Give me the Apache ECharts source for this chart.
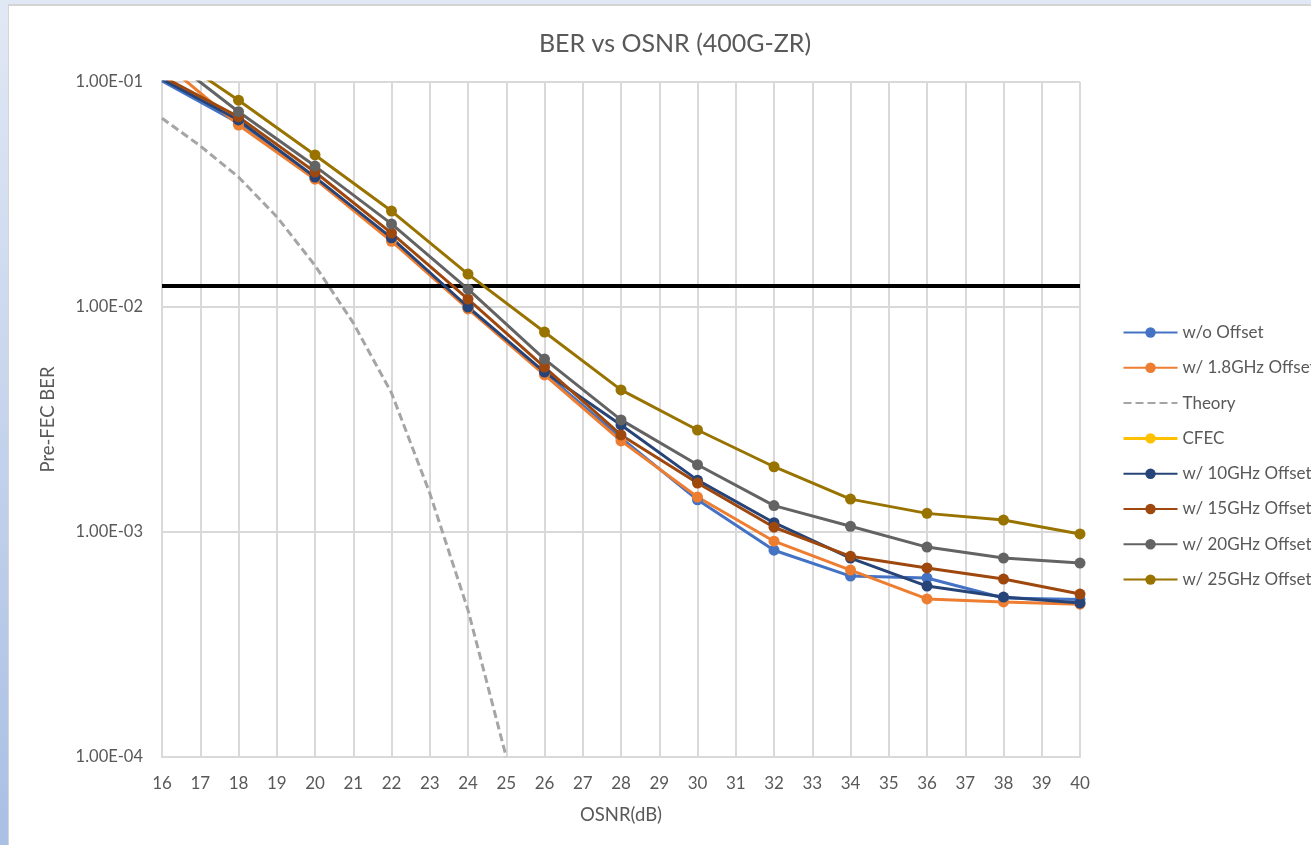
<!DOCTYPE html>
<html>
<head>
<meta charset="utf-8">
<script src="https://cdn.jsdelivr.net/npm/echarts@6/dist/echarts.min.js"></script>
<style>
  html, body { margin: 0; padding: 0; width: 1311px; height: 845px; overflow: hidden; background: #e1e8f5; }
  #leftStrip { position: absolute; left: 0; top: 0; width: 8px; height: 845px; background: linear-gradient(#e1e8f5, #a9bfe4); }
  #sheet { position: absolute; left: 8px; top: 4px; right: 0; bottom: 0; background: #fff; border-left: 1px solid #d4d4d4; border-top: 2px solid #d4d4d4; }
  #chart { position: absolute; left: 0; top: 0; width: 1311px; height: 845px; }
</style>
</head>
<body>
<div id="leftStrip"></div>
<div id="sheet"></div>
<div id="chart"></div>
<script>
const osnr = [16, 18, 20, 22, 24, 26, 28, 30, 32, 34, 36, 38, 40];
const theoryOsnr = [16, 17, 18, 19, 20, 21, 22, 23, 24, 25];
const cfecOsnr = [16, 40];

const woOffset = [0.101, 0.0658, 0.0374, 0.0201, 0.0099, 0.00509, 0.00262, 0.00139, 0.00083, 0.000637, 0.000625, 0.000509, 0.000501];
const w18GHz = [0.124, 0.0644, 0.037, 0.0196, 0.0098, 0.00499, 0.00254, 0.00143, 0.00091, 0.000677, 0.000504, 0.000489, 0.000478];
const theory = [0.069, 0.052, 0.0378, 0.0252, 0.0153, 0.0085, 0.00415, 0.00149, 0.00045, 0.0001];
const cfec = [0.0124, 0.0124];
const w10GHz = [0.103, 0.0678, 0.0378, 0.0203, 0.0100, 0.00514, 0.00299, 0.0017, 0.0011, 0.000766, 0.000575, 0.000514, 0.000483];
const w15GHz = [0.106, 0.070, 0.0398, 0.0213, 0.01085, 0.00541, 0.0027, 0.00165, 0.00105, 0.00078, 0.000692, 0.000618, 0.00053];
const w20GHz = [0.135, 0.0738, 0.0423, 0.0234, 0.0120, 0.00587, 0.00315, 0.00199, 0.00131, 0.00106, 0.000857, 0.000766, 0.000728];
const w25GHz = [0.141, 0.083, 0.0474, 0.0267, 0.0140, 0.00774, 0.00428, 0.00284, 0.00195, 0.0014, 0.00121, 0.00113, 0.00098];

const font = "Lato, 'Noto Sans', sans-serif";
const textColor = "#595959";
const gridColor = "#d9d9d9";

const pairs = (xs, ys) => xs.map((x, i) => [x, ys[i]]);

// Excel-style scientific labels, e.g. 1.00E-02
const sci = (v) => {
  const [m, e] = v.toExponential(2).split("e");
  const n = Number(e);
  return m + "E" + (n < 0 ? "-" : "+") + String(Math.abs(n)).padStart(2, "0");
};

const markerSeries = (name, xs, ys, color) => ({
  name,
  type: "line",
  data: pairs(xs, ys),
  symbol: "circle",
  symbolSize: 11,
  lineStyle: { color, width: 3 },
  itemStyle: { color },
  clip: true,
  z: 3,
});

const chart = echarts.init(document.getElementById("chart"));

chart.setOption({
  animation: false,
  textStyle: { fontFamily: font },
  title: {
    text: "BER vs OSNR (400G-ZR)",
    left: 670,
    textAlign: "center",
    top: 26,
    textStyle: { fontFamily: font, fontSize: 25, fontWeight: "normal", color: textColor },
  },
  legend: {
    orient: "vertical",
    left: 1122,
    top: 324,
    padding: 0,
    itemWidth: 54,
    itemHeight: 13,
    itemGap: 18.3,
    textStyle: { fontFamily: font, fontSize: 17, color: textColor },
    data: [
      "w/o Offset",
      "w/ 1.8GHz Offset",
      { name: "Theory", itemStyle: { opacity: 0 } },
      { name: "CFEC", itemStyle: { color: "#ffc000" }, lineStyle: { color: "#ffc000", width: 3 } },
      "w/ 10GHz Offset",
      "w/ 15GHz Offset",
      "w/ 20GHz Offset",
      "w/ 25GHz Offset",
    ],
  },
  grid: { left: 162, top: 82, right: 231, bottom: 88 },
  xAxis: {
    type: "value",
    min: 16,
    max: 40,
    interval: 1,
    name: "OSNR(dB)",
    nameLocation: "middle",
    nameGap: 49,
    nameTextStyle: { fontFamily: font, fontSize: 18.5, color: textColor },
    axisLine: { lineStyle: { color: gridColor, width: 2 } },
    axisTick: { show: false },
    axisLabel: { margin: 18, fontFamily: font, fontSize: 17, color: textColor },
    splitLine: { show: true, lineStyle: { color: gridColor, width: 2 } },
  },
  yAxis: {
    type: "log",
    logBase: 10,
    min: 0.0001,
    max: 0.1,
    name: "Pre-FEC BER",
    nameLocation: "middle",
    nameRotate: 90,
    nameGap: 104,
    nameTextStyle: { fontFamily: font, fontSize: 18.5, color: textColor },
    axisLine: { show: true, lineStyle: { color: gridColor, width: 2 } },
    axisTick: { show: false },
    axisLabel: { margin: 19, fontFamily: font, fontSize: 16.5, color: textColor, formatter: sci },
    splitLine: { show: true, lineStyle: { color: gridColor, width: 2 } },
  },
  series: [
    markerSeries("w/o Offset", osnr, woOffset, "#4472c4"),
    markerSeries("w/ 1.8GHz Offset", osnr, w18GHz, "#ed7d31"),
    {
      name: "Theory",
      type: "line",
      data: pairs(theoryOsnr, theory),
      symbol: "none",
      lineStyle: { color: "#a5a5a5", width: 3, type: [8, 4] },
      itemStyle: { color: "#a5a5a5" },
      clip: true,
      z: 3,
    },
    {
      name: "CFEC",
      type: "line",
      data: pairs(cfecOsnr, cfec),
      symbol: "circle",
      symbolSize: 10,
      showSymbol: false,
      lineStyle: { color: "#000000", width: 4 },
      itemStyle: { color: "#000000" },
      z: 3,
    },
    markerSeries("w/ 10GHz Offset", osnr, w10GHz, "#264478"),
    markerSeries("w/ 15GHz Offset", osnr, w15GHz, "#9e480e"),
    markerSeries("w/ 20GHz Offset", osnr, w20GHz, "#636363"),
    markerSeries("w/ 25GHz Offset", osnr, w25GHz, "#997300"),
  ],
});
</script>
</body>
</html>
